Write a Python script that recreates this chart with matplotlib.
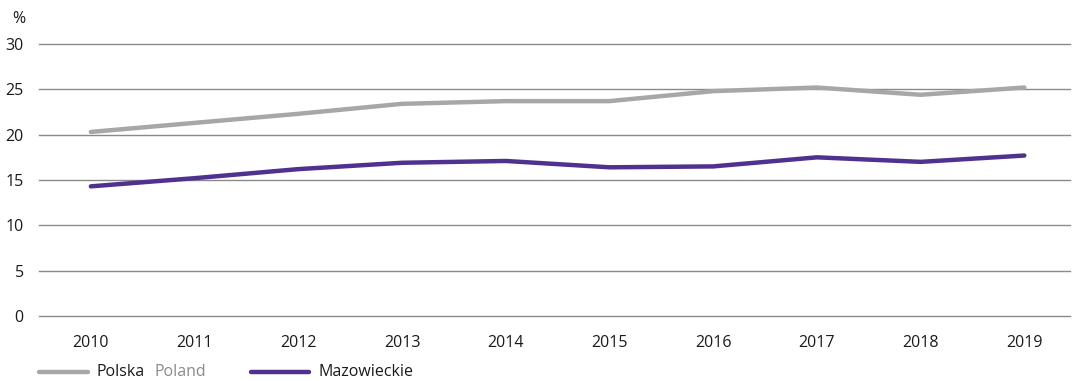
import matplotlib
matplotlib.use('Agg')
import matplotlib.pyplot as plt
from matplotlib.lines import Line2D

plt.rcParams['font.family'] = ['Open Sans', 'DejaVu Sans']

YEARS = [2010, 2011, 2012, 2013, 2014, 2015, 2016, 2017, 2018, 2019]
POLSKA = [20.3, 21.3, 22.3, 23.4, 23.7, 23.7, 24.8, 25.2, 24.4, 25.2]
MAZOWIECKIE = [14.3, 15.2, 16.2, 16.9, 17.1, 16.4, 16.5, 17.5, 17.0, 17.7]
YTICKS = [0, 5, 10, 15, 20, 25, 30]

GRAY = '#a7a7aa'
PURPLE = '#50318f'
FS = 11.5

fig = plt.figure(figsize=(10.74, 3.81), dpi=100)
ax = fig.add_axes([39 / 1074, 1 - 316 / 381, (1070 - 39) / 1074, (316 - 44) / 381])

ax.plot(YEARS, POLSKA, color=GRAY, lw=3.2, solid_capstyle='round', zorder=3)
ax.plot(YEARS, MAZOWIECKIE, color=PURPLE, lw=3.2, solid_capstyle='round', zorder=3)

ax.set_ylim(0, 30)
ax.set_xlim(2009.5, 2019.44)
ax.set_yticks(YTICKS)
ax.set_xticks(YEARS)
ax.grid(axis='y', color='#8a8a8a', lw=1.0)
for gl in ax.get_ygridlines():
    gl.set_clip_on(False)
ax.set_axisbelow(True)
for s in ax.spines.values():
    s.set_visible(False)
ax.tick_params(axis='both', length=0, labelsize=FS, colors='#1a1a1a')
ax.tick_params(axis='y', pad=11)
ax.tick_params(axis='x', pad=14)

fig.text(12 / 1074, 1 - 19 / 381, '%', fontsize=FS, color='#1a1a1a', va='center')

# legend drawn by hand: the Polish/English label uses two colours
ly = 1 - 372 / 381
fig.add_artist(Line2D([39 / 1074, 88 / 1074], [ly, ly], color=GRAY, lw=3.2,
                      solid_capstyle='round', transform=fig.transFigure))
fig.text(97 / 1074, ly, 'Polska', fontsize=FS, color='#1a1a1a', va='center')
fig.text(155 / 1074, ly, 'Poland', fontsize=FS, color='#8a8a8a', va='center')
fig.add_artist(Line2D([251 / 1074, 309 / 1074], [ly, ly], color=PURPLE, lw=3.2,
                      solid_capstyle='round', transform=fig.transFigure))
fig.text(318 / 1074, ly, 'Mazowieckie', fontsize=FS, color='#1a1a1a', va='center')

fig.savefig('out.png', dpi=100)
